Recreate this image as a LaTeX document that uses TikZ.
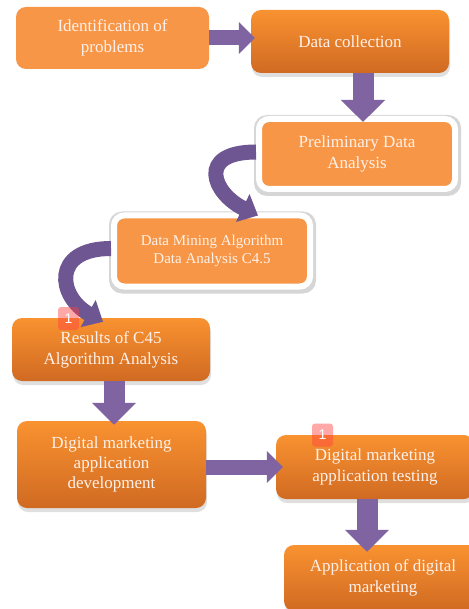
\documentclass[tikz,border=0pt]{standalone}
\usepackage{fontspec}
\setmainfont{Liberation Serif}
\newfontfamily\badgefont{Liberation Sans}
\usetikzlibrary{arrows.meta,shadows,calc}
\pgfdeclarelayer{bg}
\pgfsetlayers{bg,main}
\definecolor{olight}{HTML}{F79646}
\definecolor{otop}{HTML}{F99230}
\definecolor{obot}{HTML}{D06A22}
\definecolor{purp}{HTML}{8064A2}
\definecolor{purpd}{HTML}{6E5693}
\definecolor{txt}{HTML}{FFF1EA}
\begin{document}
\begin{tikzpicture}[x=1pt,y=-1pt,
  base/.style={rounded corners=10pt, align=center, text=txt, inner sep=0pt,
    font=\fontsize{17}{21}\selectfont},
  flat/.style={base, fill=olight},
  grad/.style={base, top color=otop, bottom color=obot,
    drop shadow={shadow xshift=1pt, shadow yshift=-4pt, opacity=0.25}},
  framed/.style={base, fill=olight, draw=white, line width=6pt},
  halo/.style={fill=black, opacity=0.16, rounded corners=13pt},
  hblock/.style={draw=purp, line width=15pt, -{Triangle[width=31pt,length=16pt]}},
  vblock/.style={draw=purp, line width=21pt, -{Triangle[width=43pt,length=22pt]}},
  curved/.style={draw=purpd, line width=15pt, -{Triangle[width=30pt,length=17pt]}},
  badge/.style={rounded corners=3pt, fill=red!75!white, fill opacity=0.45,
    text opacity=1, text=white, minimum width=21pt, minimum height=23pt,
    inner sep=0pt, font=\badgefont\fontsize{14}{14}\selectfont}
]
\useasboundingbox (0,0) rectangle (468,609);
\begin{pgfonlayer}{bg}
\fill[white] (0,0) rectangle (468,609);
\end{pgfonlayer}

\node[flat, minimum width=193pt, minimum height=62pt] (b1) at (112.5,38)
  {Identification of\\problems};
\node[grad, minimum width=198pt, minimum height=63pt] (b2) at (350,41.5)
  {Data collection};
\node[framed, minimum width=196pt, minimum height=70pt] (b3) at (357,154)
  {Preliminary Data\\Analysis};
\node[framed, minimum width=196pt, minimum height=71pt,
  font=\fontsize{15}{18}\selectfont] (b4) at (212,251)
  {Data Mining Algorithm\\Data Analysis C4.5};
\node[grad, minimum width=198pt, minimum height=63pt] (b5) at (111,349.5)
  {Results of C45\\Algorithm Analysis};
\node[grad, minimum width=189pt, minimum height=87pt,
  font=\fontsize{17}{20}\selectfont] (b6) at (111.5,464.5)
  {Digital marketing\\application\\development};
\node[grad, minimum width=198pt, minimum height=64pt] (b7) at (375,467)
  {Digital marketing\\application testing};
\node[grad, minimum width=198pt, minimum height=66pt] (b8) at (383,578)
  {Application of digital\\marketing};

\begin{pgfonlayer}{bg}
\fill[halo] ($(b3.south west)+(-2,4)$) rectangle ($(b3.north east)+(3,-1)$);
\fill[halo] ($(b4.south west)+(-2,4)$) rectangle ($(b4.north east)+(3,-1)$);
\end{pgfonlayer}

\draw[hblock, shorten >=-4pt] (b1.east) -- (b1.east -| b2.west);
\draw[vblock, shorten >=-6pt] ([xshift=13pt]b2.south) -- ([xshift=13pt]b2.south |- b3.north);
\draw[curved] ([yshift=2pt]b3.west) .. controls +(-60,0) and +(-45,-22) .. ([xshift=46pt,yshift=-3pt]b4.north);
\draw[curved] ([yshift=2.5pt]b4.west) .. controls +(-60,0) and +(-45,-25) .. ([xshift=-8pt,yshift=-4pt]b5.north);
\draw[vblock, shorten >=-4pt] ([xshift=3pt]b5.south) -- ([xshift=3pt]b5.south |- b6.north);
\draw[hblock, shorten >=-7pt] ([yshift=-2.5pt]b6.east) -- ([yshift=-2.5pt]b6.east -| b7.west);
\draw[vblock, shorten >=-7pt] ([xshift=-8pt]b7.south) -- ([xshift=-8pt]b7.south |- b8.north);

\node[badge] (m1) at (68.5,318.5) {1};
\node[badge] (m2) at (322.5,435) {1};
\end{tikzpicture}
\end{document}
